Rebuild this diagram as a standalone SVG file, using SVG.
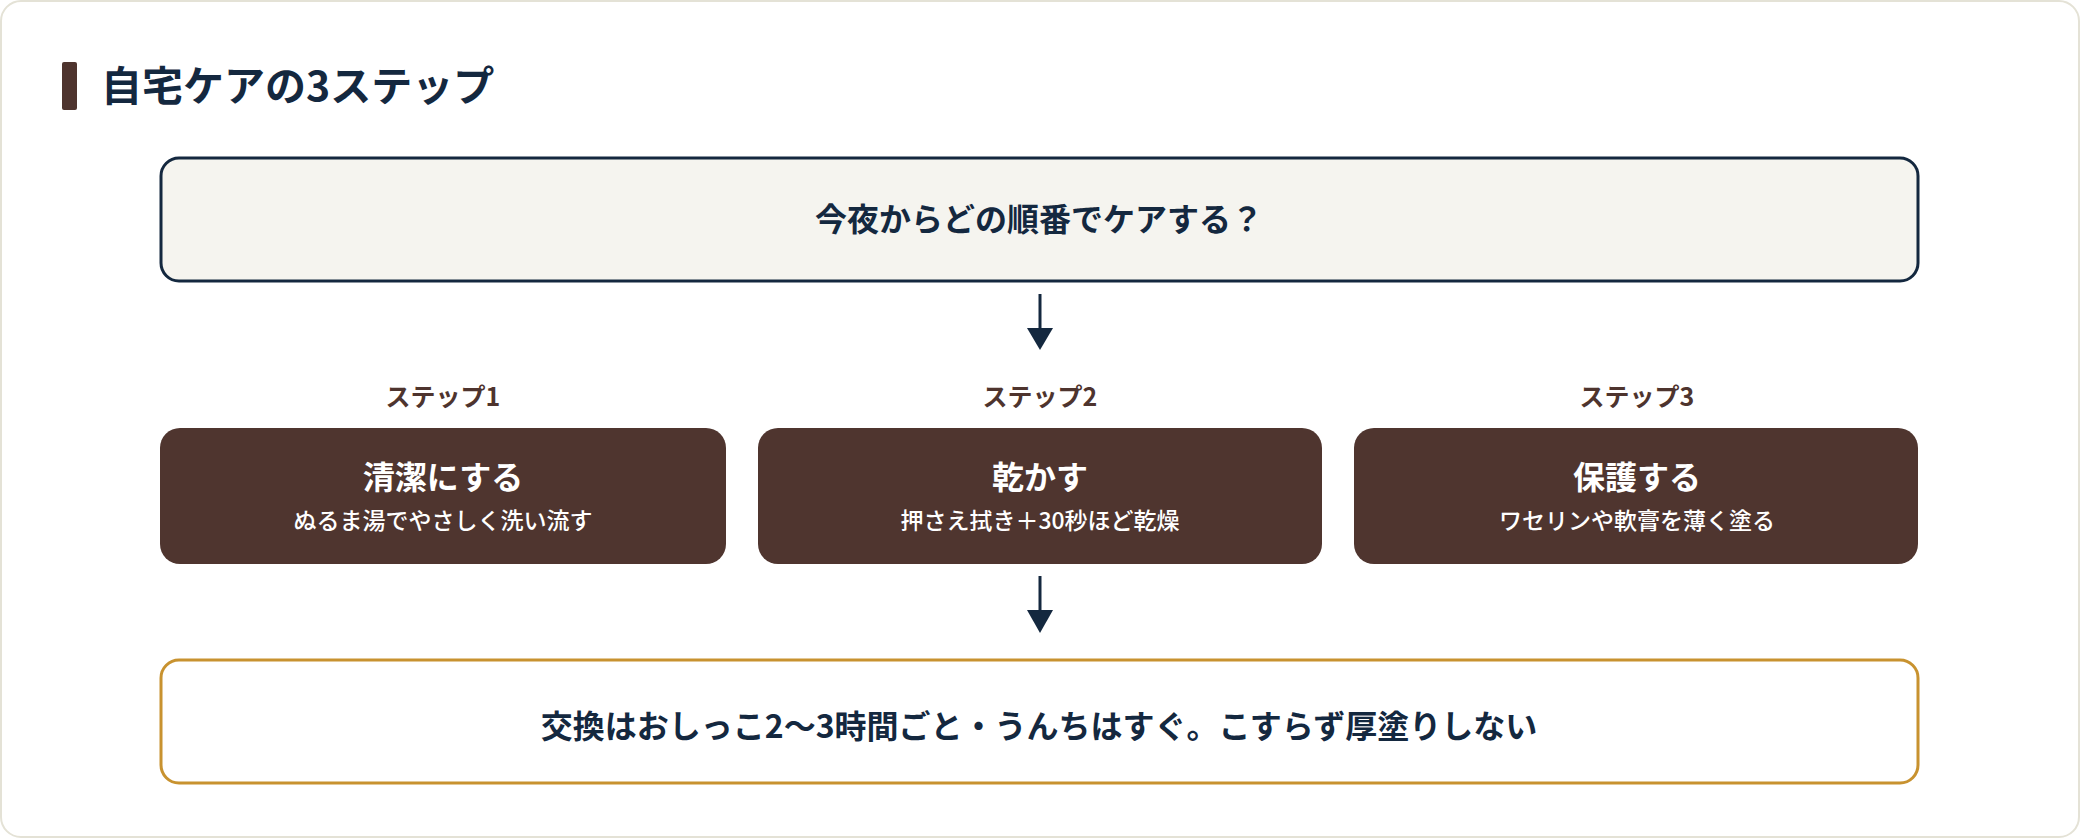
<svg xmlns="http://www.w3.org/2000/svg" width="2080" height="838" viewBox="0 0 2080 838">
<style>
text{font-family:"Noto Sans CJK JP","Noto Sans",sans-serif;font-weight:700;text-anchor:middle}
.nv{fill:#14283f}
.st{fill:#4e342e;font-size:25px}
.bt{fill:#fff;font-size:32px}
.bs{fill:#fff;font-size:23px;font-weight:500}
.step{fill:#4f352f}
</style>
<defs><marker id="ah" markerWidth="10" markerHeight="10" refX="5" refY="5" orient="auto" markerUnits="userSpaceOnUse" viewBox="0 0 10 10"><path d="M0,0L10,5L0,10z" fill="#14283f"/></marker></defs>
<rect x="1" y="1" width="2078" height="836" rx="20" fill="#fff" stroke="#e4e2d6" stroke-width="2"/>
<g id="title"><rect x="62" y="62" width="15" height="48" rx="2" fill="#4e342e"/><text x="101" y="101" class="nv" style="text-anchor:start;font-size:41px">自宅ケアの3ステップ</text></g>
<g id="question"><rect x="161" y="158" width="1757" height="123" rx="18" fill="#f5f4ef" stroke="#14283f" stroke-width="3"/><text x="1039" y="231" class="nv" font-size="32">今夜からどの順番でケアする？</text></g>
<g id="connectors" stroke="#14283f" stroke-width="3">
<line x1="1040" y1="294" x2="1040" y2="330"/><path d="M1027,328L1053,328L1040,350z" fill="#14283f" stroke="none"/>
<line x1="1040" y1="576" x2="1040" y2="612"/><path d="M1027,610L1053,610L1040,633z" fill="#14283f" stroke="none"/>
</g>
<g id="step1"><text x="443" y="406" class="st">ステップ1</text><rect x="160" y="428" width="566" height="136" rx="20" class="step"/><text x="443" y="489" class="bt">清潔にする</text><text x="443" y="529" class="bs">ぬるま湯でやさしく洗い流す</text></g>
<g id="step2"><text x="1040" y="406" class="st">ステップ2</text><rect x="758" y="428" width="564" height="136" rx="20" class="step"/><text x="1040" y="489" class="bt">乾かす</text><text x="1040" y="529" class="bs">押さえ拭き＋30秒ほど乾燥</text></g>
<g id="step3"><text x="1637" y="406" class="st">ステップ3</text><rect x="1354" y="428" width="564" height="136" rx="20" class="step"/><text x="1637" y="489" class="bt">保護する</text><text x="1637" y="529" class="bs">ワセリンや軟膏を薄く塗る</text></g>
<g id="rule"><rect x="161" y="660" width="1757" height="123" rx="18" fill="#fff" stroke="#c8922f" stroke-width="3"/><text x="1039" y="738" class="nv" font-size="32">交換はおしっこ2〜3時間ごと・うんちはすぐ。こすらず厚塗りしない</text></g>
</svg>
